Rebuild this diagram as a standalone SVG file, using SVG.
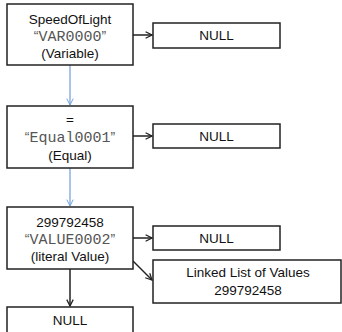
<svg xmlns="http://www.w3.org/2000/svg" width="342" height="332" viewBox="0 0 342 332">
<style>
.box{fill:#fff;stroke:#222;stroke-width:1.5}
.t{font-family:"Liberation Sans",Arial,sans-serif;font-size:13.5px;fill:#111;text-anchor:middle}
.m{font-family:"Liberation Mono","Courier New",monospace;font-size:15px;fill:#555}
.q{font-family:"Liberation Sans",Arial,sans-serif;font-size:14px;fill:#555}
.blk{stroke:#222;stroke-width:1.5;fill:none}
.blu{stroke:#6f9fd8;stroke-width:1.2;fill:none}
</style>
<defs>
<marker id="ab" viewBox="0 0 10 10" refX="9" refY="5" markerWidth="8" markerHeight="8" markerUnits="userSpaceOnUse" orient="auto"><path d="M1,1 L9,5 L1,9" fill="none" stroke="#222" stroke-width="1.6"/></marker>
<marker id="au" viewBox="0 0 10 10" refX="9" refY="5" markerWidth="8" markerHeight="8" markerUnits="userSpaceOnUse" orient="auto"><path d="M1,1 L9,5 L1,9" fill="none" stroke="#6f9fd8" stroke-width="1.2"/></marker>
</defs>
<g id="connectors">
<line class="blk" x1="133" y1="35" x2="152" y2="35" marker-end="url(#ab)"/>
<line class="blk" x1="133" y1="136" x2="152" y2="136" marker-end="url(#ab)"/>
<line class="blk" x1="133" y1="238" x2="152" y2="238" marker-end="url(#ab)"/>
<line class="blk" x1="133" y1="261" x2="152" y2="280" marker-end="url(#ab)"/>
<line class="blk" x1="70" y1="269" x2="70" y2="306" marker-end="url(#ab)"/>
<line class="blu" x1="70" y1="65" x2="70" y2="105" marker-end="url(#au)"/>
<line class="blu" x1="70" y1="168" x2="70" y2="206" marker-end="url(#au)"/>
</g>
<g id="var">
<rect class="box" x="7" y="4" width="126" height="61"/>
<text class="t" x="70" y="24">SpeedOfLight</text>
<text class="t" x="70" y="41"><tspan class="q">“</tspan><tspan class="m">VAR0000</tspan><tspan class="q">”</tspan></text>
<text class="t" x="70" y="58">(Variable)</text>
</g>
<g id="null1">
<rect class="box" x="153" y="23" width="127" height="25"/>
<text class="t" x="216.5" y="40">NULL</text>
</g>
<g id="equal">
<rect class="box" x="7" y="106" width="126" height="62"/>
<text class="t" x="70" y="124">=</text>
<text class="t" x="70" y="142"><tspan class="q">“</tspan><tspan class="m">Equal0001</tspan><tspan class="q">”</tspan></text>
<text class="t" x="70" y="160">(Equal)</text>
</g>
<g id="null2">
<rect class="box" x="153" y="124" width="127" height="24"/>
<text class="t" x="216.5" y="141">NULL</text>
</g>
<g id="value">
<rect class="box" x="7" y="207" width="126" height="62"/>
<text class="t" x="70" y="227">299792458</text>
<text class="t" x="70" y="244"><tspan class="q">“</tspan><tspan class="m">VALUE0002</tspan><tspan class="q">”</tspan></text>
<text class="t" x="70" y="261">(literal Value)</text>
</g>
<g id="null3">
<rect class="box" x="153" y="226" width="127" height="24"/>
<text class="t" x="216.5" y="243">NULL</text>
</g>
<g id="list">
<rect class="box" x="153" y="260" width="188" height="43"/>
<text class="t" x="248" y="277">Linked List of Values</text>
<text class="t" x="248" y="295">299792458</text>
</g>
<g id="null4">
<rect class="box" x="7" y="307" width="126" height="30"/>
<text class="t" x="70" y="325">NULL</text>
</g>
</svg>
